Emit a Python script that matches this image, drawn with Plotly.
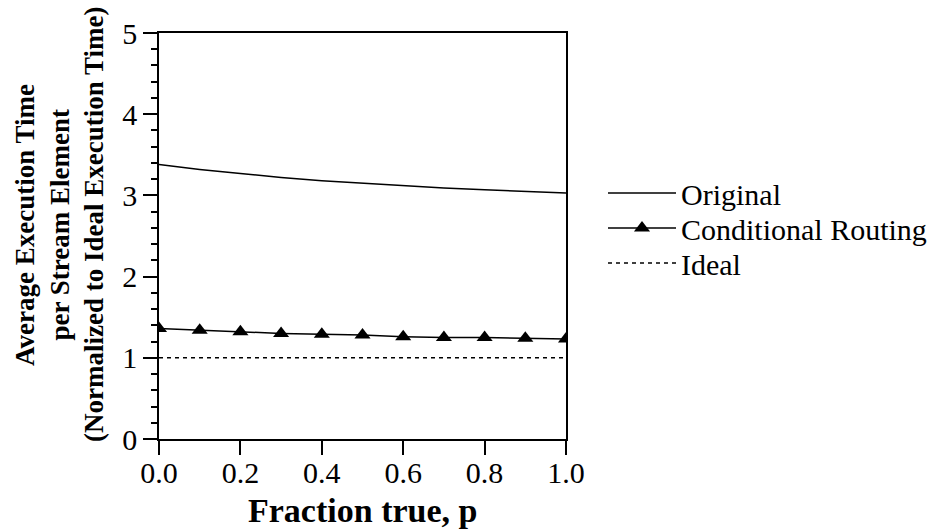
import plotly.graph_objects as go

p = [0.0, 0.1, 0.2, 0.3, 0.4, 0.5, 0.6, 0.7, 0.8, 0.9, 1.0]
original = [3.38, 3.32, 3.27, 3.22, 3.18, 3.15, 3.12, 3.09, 3.07, 3.05, 3.03]
conditional = [1.36, 1.34, 1.32, 1.30, 1.29, 1.28, 1.26, 1.25, 1.25, 1.24, 1.23]
ideal = [1.0] * len(p)

y_title_lines = ["Average Execution Time", "per Stream Element",
                 "(Normalized to Ideal Execution Time)"]

FONT = "Liberation Serif"
PL, PR, PT, PB = 159, 566, 33, 439
W, H = 944, 529


def px_x(v):
    return (v - PL) / (PR - PL)


def px_y(v):
    return (PB - v) / (PB - PT)


fig = go.Figure()
fig.add_trace(go.Scatter(x=p, y=original, mode="lines", name="Original", legend="legend",
                         line=dict(color="black", width=1.5)))
fig.add_trace(go.Scatter(x=p, y=conditional, mode="lines+markers", name="Conditional Routing",
                         legend="legend2",
                         line=dict(color="black", width=1.5),
                         marker=dict(symbol="triangle-up", size=14, color="black")))
fig.add_trace(go.Scatter(x=p, y=ideal, mode="lines", name="Ideal", legend="legend3",
                         line=dict(color="black", width=1.5, dash="4px,4px")))

leg_common = dict(xanchor="left", yanchor="middle", x=px_x(603),
                  font=dict(family=FONT, size=30, color="black"),
                  bgcolor="rgba(0,0,0,0)", itemwidth=68)

fig.update_layout(
    width=W, height=H,
    margin=dict(l=PL, r=W - PR, t=PT, b=H - PB, autoexpand=False),
    plot_bgcolor="white", paper_bgcolor="white",
    font=dict(family=FONT, size=30, color="black"),
    showlegend=True,
    legend=dict(y=px_y(193), **leg_common),
    legend2=dict(y=px_y(228), **leg_common),
    legend3=dict(y=px_y(263), **leg_common),
    xaxis=dict(range=[0, 1], tickvals=[0, 0.2, 0.4, 0.6, 0.8, 1.0],
               ticktext=["0.0", "0.2", "0.4", "0.6", "0.8", "1.0"],
               ticks="outside", ticklen=14, tickwidth=1.5, tickcolor="black",
               showline=True, linecolor="black", linewidth=1.5, mirror=True,
               showgrid=False, zeroline=False, automargin=False,
               ticklabelstandoff=-8,
               tickfont=dict(family=FONT, size=30)),
    yaxis=dict(range=[0, 5], tickvals=[0, 1, 2, 3, 4, 5],
               ticks="outside", ticklen=14, tickwidth=1.5, tickcolor="black",
               minor=dict(dtick=0.2, ticks="outside", ticklen=6, tickwidth=1.5, tickcolor="black"),
               showline=True, linecolor="black", linewidth=1.5, mirror=True,
               showgrid=False, zeroline=False, automargin=False,
               tickfont=dict(family=FONT, size=30)),
)

for line_text, cx in zip(y_title_lines, [25, 59.5, 94]):
    fig.add_annotation(
        text="<b>" + line_text + "</b>",
        xref="paper", yref="paper", x=px_x(cx), y=px_y(225),
        xanchor="center", yanchor="middle",
        textangle=-90, showarrow=False, font=dict(family=FONT, size=27, color="black"))

fig.add_annotation(
    text="<b>Fraction true, p</b>",
    xref="paper", yref="paper", x=0.5, y=px_y(510),
    xanchor="center", yanchor="middle",
    showarrow=False, font=dict(family=FONT, size=34, color="black"))

fig.write_html("out.html")
